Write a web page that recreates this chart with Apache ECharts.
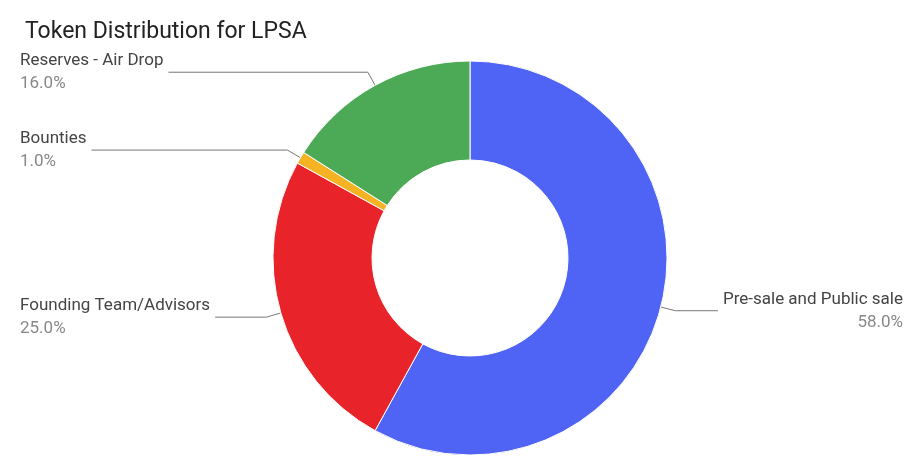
<!DOCTYPE html>
<html>
<head>
<meta charset="utf-8">
<script src="https://cdn.jsdelivr.net/npm/echarts@6/dist/echarts.min.js"></script>
<style>
  html, body { margin: 0; padding: 0; background: #fff; }
  #chart { width: 923px; height: 472px; }
</style>
</head>
<body>
<div id="chart"></div>
<script>
// 数据
const categories = ['Pre-sale and Public sale', 'Founding Team/Advisors', 'Bounties', 'Reserves - Air Drop'];
const shares = [58, 25, 1, 16];
const colors = ['#4f63f5', '#e8232a', '#f5b323', '#4caa57'];

const chart = echarts.init(document.getElementById('chart'));

const option = {
    title: {
        text: 'Token Distribution for LPSA',
        left: 20,
        top: 16,
        textStyle: { fontFamily: 'Roboto', fontSize: 23, fontWeight: 'normal', color: '#222' }
    },
    series: [
        {
            type: 'pie',
            center: [470, 258],
            radius: [98, 197],
            startAngle: 90,
            clockwise: true,
            itemStyle: { borderColor: '#fff', borderWidth: 1 },
            label: {
                alignTo: 'edge',
                edgeDistance: 20,
                fontFamily: 'Roboto',
                formatter: p => '{n|' + p.name + '}\n{p|' + p.value.toFixed(1) + '%}',
                rich: {
                    n: { fontSize: 17, color: '#444', lineHeight: 24, fontFamily: 'Roboto' },
                    p: { fontSize: 17, color: '#888', lineHeight: 22, fontFamily: 'Roboto' }
                }
            },
            labelLine: {
                show: true,
                length: 15,
                length2: 10,
                lineStyle: { color: '#777', width: 1 }
            },
            data: categories.map((name, i) => ({
                name: name,
                value: shares[i],
                itemStyle: { color: colors[i] }
            }))
        }
    ]
};

chart.setOption(option);
</script>
</body>
</html>
